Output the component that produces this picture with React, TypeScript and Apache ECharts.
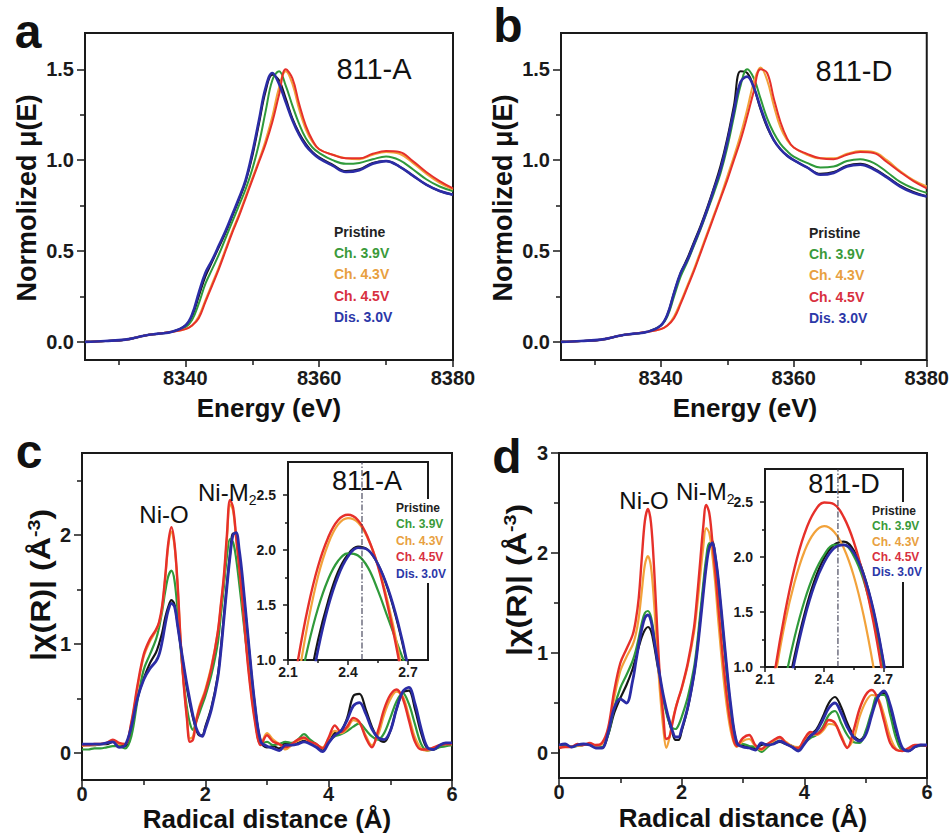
import React, { useEffect, useRef } from "react";
import * as echarts from "echarts";

const FONT = "'Liberation Sans', Arial, Helvetica, sans-serif";

// ---------- shared ----------
const SERIES_NAMES = ["Pristine", "Ch. 3.9V", "Ch. 4.3V", "Ch. 4.5V", "Dis. 3.0V"];
const LINE_COLORS = ["#161616", "#2f9a3a", "#f2a23a", "#e6302a", "#2b2ca6"];
const LEGEND_COLORS = ["#222222", "#3a9a3a", "#e8a040", "#d83040", "#2c38a8"];

// ---------- XANES (a, b) ----------
const ENERGY = [8325, 8328, 8331, 8334, 8336, 8338, 8340, 8341, 8342, 8343, 8344, 8345, 8346, 8347, 8348, 8349, 8350, 8351, 8352, 8353, 8354, 8355, 8356, 8357, 8358, 8359, 8360, 8362, 8364, 8366, 8368, 8370, 8372, 8374, 8376, 8378, 8380];
const ENERGY_TICKS = [8340, 8360, 8380];
const ENERGY_MINOR = [8330, 8350, 8370];
const MU_TICKS = [0, 0.5, 1, 1.5];
const MU_MINOR = [0.25, 0.75, 1.25];

const A_PRISTINE = [0.0, 0.005, 0.012, 0.035, 0.045, 0.055, 0.09, 0.14, 0.25, 0.36, 0.44, 0.52, 0.6, 0.69, 0.78, 0.88, 1.02, 1.2, 1.38, 1.47, 1.44, 1.34, 1.23, 1.15, 1.09, 1.045, 1.015, 0.975, 0.94, 0.95, 0.985, 0.995, 0.965, 0.915, 0.865, 0.83, 0.81];
const A_CH39 = [0.0, 0.005, 0.012, 0.035, 0.045, 0.055, 0.08, 0.12, 0.21, 0.32, 0.4, 0.48, 0.57, 0.66, 0.75, 0.84, 0.95, 1.09, 1.27, 1.44, 1.49, 1.41, 1.3, 1.2, 1.12, 1.07, 1.04, 1.0, 0.98, 0.985, 1.005, 1.02, 1.0, 0.95, 0.895, 0.855, 0.83];
const A_CH43 = [0.0, 0.005, 0.012, 0.035, 0.045, 0.055, 0.07, 0.09, 0.14, 0.23, 0.32, 0.41, 0.51, 0.61, 0.7, 0.8, 0.9, 1.0, 1.11, 1.24, 1.4, 1.49, 1.42, 1.28, 1.17, 1.1, 1.06, 1.03, 1.01, 1.005, 1.03, 1.045, 1.035, 0.985, 0.925, 0.875, 0.84];
const A_CH45 = [0.0, 0.005, 0.012, 0.035, 0.045, 0.055, 0.07, 0.09, 0.13, 0.22, 0.31, 0.4, 0.5, 0.6, 0.69, 0.79, 0.89, 0.99, 1.09, 1.21, 1.36, 1.5, 1.45, 1.31, 1.19, 1.11, 1.06, 1.03, 1.01, 1.01, 1.035, 1.05, 1.045, 0.995, 0.935, 0.885, 0.845];
const A_DIS30 = [0.0, 0.005, 0.012, 0.035, 0.045, 0.055, 0.09, 0.15, 0.27, 0.38, 0.45, 0.53, 0.61, 0.7, 0.79, 0.89, 1.04, 1.22, 1.4, 1.48, 1.42, 1.32, 1.22, 1.14, 1.08, 1.04, 1.01, 0.97, 0.935, 0.945, 0.98, 0.995, 0.965, 0.915, 0.865, 0.83, 0.81];

const B_PRISTINE = [0.0, 0.005, 0.012, 0.035, 0.045, 0.055, 0.09, 0.15, 0.27, 0.38, 0.46, 0.55, 0.64, 0.74, 0.85, 0.97, 1.12, 1.3, 1.49, 1.48, 1.4, 1.28, 1.18, 1.11, 1.06, 1.025, 1.0, 0.96, 0.925, 0.935, 0.97, 0.98, 0.955, 0.91, 0.86, 0.825, 0.8];
const B_CH39 = [0.0, 0.005, 0.012, 0.035, 0.045, 0.055, 0.09, 0.14, 0.25, 0.36, 0.44, 0.53, 0.62, 0.72, 0.82, 0.93, 1.07, 1.24, 1.41, 1.5, 1.45, 1.34, 1.23, 1.15, 1.09, 1.05, 1.02, 0.985, 0.96, 0.965, 0.995, 1.005, 0.985, 0.935, 0.88, 0.845, 0.82];
const B_CH43 = [0.0, 0.005, 0.012, 0.035, 0.045, 0.055, 0.07, 0.09, 0.14, 0.22, 0.31, 0.4, 0.5, 0.6, 0.7, 0.8, 0.91, 1.02, 1.14, 1.28, 1.43, 1.51, 1.44, 1.3, 1.18, 1.11, 1.07, 1.03, 1.01, 1.01, 1.035, 1.05, 1.045, 1.0, 0.94, 0.89, 0.855];
const B_CH45 = [0.0, 0.005, 0.012, 0.035, 0.045, 0.055, 0.07, 0.09, 0.13, 0.21, 0.3, 0.39, 0.49, 0.59, 0.69, 0.79, 0.89, 1.0, 1.11, 1.24, 1.38, 1.5, 1.48, 1.34, 1.21, 1.12, 1.07, 1.035, 1.01, 1.005, 1.03, 1.045, 1.04, 0.99, 0.935, 0.885, 0.845];
const B_DIS30 = [0.0, 0.005, 0.012, 0.035, 0.045, 0.055, 0.09, 0.15, 0.27, 0.38, 0.45, 0.54, 0.63, 0.73, 0.84, 0.95, 1.1, 1.27, 1.43, 1.46, 1.4, 1.29, 1.19, 1.11, 1.06, 1.025, 1.0, 0.96, 0.92, 0.93, 0.965, 0.975, 0.95, 0.905, 0.855, 0.82, 0.8];

// ---------- EXAFS (c, d) ----------
const RADIUS = [0, 0.1, 0.2, 0.3, 0.4, 0.5, 0.6, 0.7, 0.8, 0.9, 1.0, 1.1, 1.2,
  1.25, 1.3, 1.35, 1.4, 1.45, 1.5, 1.55, 1.6, 1.65, 1.7, 1.75, 1.8, 1.85, 1.9, 1.95, 2.0,
  2.1, 2.2,
  2.25, 2.3, 2.35, 2.4, 2.45, 2.5, 2.55, 2.6,
  2.7, 2.8, 2.9, 3.0, 3.1, 3.2, 3.3, 3.4, 3.5, 3.6, 3.7, 3.8, 3.9, 4.0, 4.1, 4.2, 4.3, 4.4, 4.5, 4.6, 4.7, 4.8, 4.9, 5.0, 5.1, 5.2, 5.3, 5.4, 5.5, 5.6, 5.7, 5.8, 5.9, 6.0];
const R_TICKS = [0, 2, 4, 6];
const R_MINOR = [1, 3, 5];
const C_CHI_TICKS = [0, 1, 2];
const D_CHI_TICKS = [0, 1, 2, 3];
const CHI_MINOR = [0.5, 1.5, 2.5];

const C_PRISTINE = [0.07, 0.07, 0.07, 0.08, 0.08, 0.1, 0.07, 0.06, 0.22, 0.5, 0.68, 0.82, 0.92,
  1.0, 1.1, 1.24, 1.34, 1.4, 1.36, 1.18, 0.98, 0.78, 0.6, 0.45, 0.32, 0.22, 0.16, 0.16, 0.24,
  0.42, 0.7,
  0.95, 1.25, 1.55, 1.82, 2.01, 2.0, 1.82, 1.58,
  1.0, 0.45, 0.1, 0.05, 0.06, 0.04, 0.09, 0.08, 0.09, 0.11, 0.09, 0.07, 0.02, 0.1, 0.18, 0.2, 0.32, 0.52, 0.54, 0.4, 0.24, 0.13, 0.1, 0.2, 0.4, 0.55, 0.57, 0.4, 0.18, 0.04, 0.03, 0.06, 0.08, 0.09];
const C_CH39 = [0.03, 0.03, 0.04, 0.04, 0.05, 0.06, 0.06, 0.04, 0.15, 0.48, 0.76, 0.9, 1.04,
  1.15, 1.3, 1.48, 1.62, 1.67, 1.58, 1.3, 0.95, 0.65, 0.42, 0.27, 0.21, 0.28, 0.36, 0.44, 0.52,
  0.72, 1.0,
  1.25, 1.52, 1.8, 1.96, 1.93, 1.78, 1.55, 1.3,
  0.8, 0.35, 0.08, 0.1, 0.07, 0.08, 0.1, 0.09, 0.12, 0.17, 0.12, 0.08, 0.04, 0.1, 0.15, 0.17, 0.2, 0.24, 0.27, 0.21, 0.15, 0.12, 0.18, 0.32, 0.47, 0.55, 0.45, 0.26, 0.08, 0.02, 0.03, 0.05, 0.06, 0.07];
const C_CH43 = [0.06, 0.07, 0.07, 0.08, 0.09, 0.11, 0.08, 0.08, 0.27, 0.6, 0.88, 1.02, 1.12,
  1.19, 1.33, 1.6, 1.9, 2.03, 1.9, 1.53, 1.02, 0.63, 0.34, 0.13, 0.15, 0.3, 0.42, 0.5, 0.58,
  0.8, 1.1,
  1.34, 1.6, 1.96, 2.28, 2.22, 1.96, 1.7, 1.4,
  0.77, 0.32, 0.08, 0.18, 0.12, 0.08, 0.03, 0.07, 0.11, 0.13, 0.1, 0.07, 0.05, 0.13, 0.2, 0.18, 0.22, 0.3, 0.27, 0.16, 0.07, 0.16, 0.35, 0.49, 0.56, 0.52, 0.34, 0.14, 0.04, 0.02, 0.04, 0.07, 0.08, 0.08];
const C_CH45 = [0.07, 0.07, 0.08, 0.08, 0.09, 0.12, 0.09, 0.08, 0.28, 0.62, 0.9, 1.04, 1.13,
  1.2, 1.35, 1.62, 1.93, 2.07, 1.92, 1.55, 1.02, 0.62, 0.32, 0.1, 0.12, 0.28, 0.4, 0.48, 0.56,
  0.78, 1.1,
  1.35, 1.62, 2.0, 2.32, 2.25, 1.98, 1.7, 1.4,
  0.75, 0.3, 0.07, 0.16, 0.1, 0.08, 0.05, 0.08, 0.12, 0.14, 0.1, 0.08, 0.04, 0.14, 0.25, 0.19, 0.24, 0.32, 0.28, 0.14, 0.05, 0.2, 0.4, 0.53, 0.58, 0.5, 0.3, 0.1, 0.03, 0.03, 0.05, 0.07, 0.08, 0.08];
const C_DIS30 = [0.08, 0.08, 0.08, 0.08, 0.09, 0.1, 0.05, 0.07, 0.24, 0.5, 0.67, 0.77, 0.84,
  0.9, 1.02, 1.18, 1.31, 1.37, 1.34, 1.17, 0.98, 0.8, 0.63, 0.48, 0.34, 0.23, 0.17, 0.15, 0.22,
  0.4, 0.68,
  0.92, 1.22, 1.52, 1.8, 2.0, 2.02, 1.86, 1.62,
  1.02, 0.46, 0.1, 0.06, 0.04, 0.02, 0.07, 0.07, 0.08, 0.1, 0.08, 0.05, 0.01, 0.09, 0.16, 0.2, 0.3, 0.43, 0.46, 0.36, 0.22, 0.14, 0.12, 0.2, 0.4, 0.56, 0.6, 0.45, 0.22, 0.05, 0.03, 0.07, 0.09, 0.09];

const D_PRISTINE = [0.06, 0.07, 0.07, 0.07, 0.08, 0.08, 0.06, 0.05, 0.18, 0.4, 0.55, 0.68, 0.84,
  0.95, 1.06, 1.16, 1.23, 1.26, 1.22, 1.08, 0.9, 0.72, 0.56, 0.42, 0.3, 0.2, 0.13, 0.13, 0.22,
  0.45, 0.78,
  1.02, 1.32, 1.62, 1.9, 2.08, 2.12, 1.96, 1.7,
  1.05, 0.45, 0.1, 0.07, 0.06, 0.05, 0.08, 0.09, 0.1, 0.11, 0.09, 0.07, 0.03, 0.1, 0.18, 0.24, 0.36, 0.5, 0.56, 0.46, 0.3, 0.18, 0.13, 0.2, 0.4, 0.56, 0.6, 0.44, 0.2, 0.04, 0.02, 0.06, 0.08, 0.08];
const D_CH39 = [0.07, 0.07, 0.06, 0.07, 0.08, 0.08, 0.06, 0.06, 0.18, 0.45, 0.65, 0.78, 0.92,
  1.02, 1.15, 1.3, 1.4, 1.42, 1.36, 1.18, 0.96, 0.74, 0.55, 0.4, 0.3, 0.25, 0.24, 0.28, 0.36,
  0.56, 0.85,
  1.08, 1.38, 1.68, 1.95, 2.1, 2.09, 1.92, 1.66,
  1.02, 0.42, 0.08, 0.09, 0.07, 0.06, 0.01, 0.06, 0.1, 0.12, 0.09, 0.07, 0.04, 0.1, 0.15, 0.18, 0.26, 0.38, 0.42, 0.3, 0.18, 0.11, 0.1, 0.22, 0.42, 0.58, 0.58, 0.38, 0.14, 0.03, 0.03, 0.06, 0.07, 0.07];
const D_CH43 = [0.06, 0.06, 0.07, 0.07, 0.08, 0.09, 0.07, 0.09, 0.22, 0.55, 0.82, 0.96, 1.08,
  1.18, 1.35, 1.62, 1.88, 1.97, 1.86, 1.5, 1.02, 0.58, 0.25, 0.05, 0.15, 0.32, 0.45, 0.55, 0.64,
  0.88, 1.2,
  1.45, 1.75, 2.05, 2.25, 2.2, 1.98, 1.68, 1.3,
  0.65, 0.22, 0.06, 0.12, 0.14, 0.07, 0.03, 0.08, 0.12, 0.15, 0.11, 0.07, 0.06, 0.13, 0.2, 0.18, 0.22, 0.29, 0.28, 0.18, 0.06, 0.14, 0.36, 0.51, 0.58, 0.55, 0.38, 0.16, 0.04, 0.02, 0.04, 0.07, 0.08, 0.08];
const D_CH45 = [0.05, 0.06, 0.06, 0.09, 0.08, 0.1, 0.08, 0.1, 0.25, 0.62, 0.9, 1.04, 1.18,
  1.32, 1.55, 1.95, 2.32, 2.44, 2.3, 1.85, 1.25, 0.72, 0.38, 0.14, 0.16, 0.3, 0.44, 0.55, 0.65,
  0.9, 1.25,
  1.55, 1.9, 2.25, 2.48, 2.4, 2.12, 1.8, 1.45,
  0.78, 0.28, 0.07, 0.15, 0.18, 0.08, 0.04, 0.09, 0.13, 0.16, 0.1, 0.06, 0.05, 0.14, 0.21, 0.19, 0.24, 0.33, 0.3, 0.16, 0.05, 0.22, 0.44, 0.58, 0.63, 0.54, 0.32, 0.1, 0.03, 0.02, 0.05, 0.08, 0.08, 0.07];
const D_DIS30 = [0.08, 0.09, 0.06, 0.08, 0.09, 0.08, 0.05, 0.05, 0.2, 0.45, 0.54, 0.5, 0.72,
  0.9, 1.08, 1.24, 1.35, 1.38, 1.32, 1.14, 0.94, 0.75, 0.58, 0.44, 0.32, 0.22, 0.16, 0.16, 0.24,
  0.46, 0.78,
  1.0, 1.28, 1.58, 1.86, 2.05, 2.1, 1.96, 1.72,
  1.08, 0.48, 0.1, 0.06, 0.05, 0.03, 0.1, 0.08, 0.09, 0.12, 0.09, 0.06, 0.02, 0.09, 0.17, 0.22, 0.33, 0.45, 0.5, 0.4, 0.26, 0.16, 0.12, 0.18, 0.38, 0.56, 0.62, 0.48, 0.24, 0.05, 0.02, 0.06, 0.08, 0.08];

// ---------- insets (Ni-M peak zoom) ----------
const R_INSET = [2.1, 2.15, 2.2, 2.25, 2.3, 2.35, 2.4, 2.45, 2.5, 2.55, 2.6, 2.65, 2.7, 2.75, 2.8];
const INSET_X_TICKS = [2.1, 2.4, 2.7];
const INSET_X_MINOR = [2.25, 2.55];
const INSET_Y_TICKS = [1.0, 1.5, 2.0, 2.5];
const INSET_Y_MINOR = [1.25, 1.75, 2.25];
const INSET_MARK_R = 2.47;

const CI_PRISTINE = [-0.2, 0.25, 0.72, 1.18, 1.53, 1.8, 1.96, 2.03, 2.0, 1.87, 1.64, 1.32, 0.92, 0.45, 0.1];
const CI_CH39 = [0.15, 0.68, 1.12, 1.47, 1.73, 1.9, 1.97, 1.95, 1.84, 1.63, 1.38, 1.13, 0.88, 0.55, 0.2];
const CI_CH43 = [0.3, 0.82, 1.34, 1.76, 2.05, 2.23, 2.29, 2.25, 2.1, 1.86, 1.52, 1.1, 0.58, 0.15, 0.05];
const CI_CH45 = [0.42, 1.0, 1.48, 1.85, 2.11, 2.27, 2.32, 2.27, 2.11, 1.85, 1.48, 1.04, 0.5, 0.1, 0.05];
const CI_DIS30 = [-0.3, 0.12, 0.59, 1.09, 1.48, 1.76, 1.94, 2.02, 2.0, 1.87, 1.65, 1.34, 0.94, 0.44, 0.1];

const DI_PRISTINE = [-0.4, 0.15, 0.65, 1.1, 1.48, 1.78, 1.99, 2.11, 2.14, 2.06, 1.85, 1.51, 1.05, 0.5, 0.0];
const DI_CH39 = [-0.2, 0.37, 0.86, 1.27, 1.6, 1.85, 2.02, 2.11, 2.11, 2.01, 1.79, 1.45, 1.0, 0.43, 0.0];
const DI_CH43 = [0.29, 0.89, 1.39, 1.77, 2.05, 2.22, 2.28, 2.23, 2.08, 1.83, 1.47, 1.0, 0.43, 0.0, -0.3];
const DI_CH45 = [0.32, 0.96, 1.48, 1.9, 2.21, 2.41, 2.495, 2.48, 2.36, 2.14, 1.82, 1.41, 0.89, 0.3, 0.0];
const DI_DIS30 = [-0.5, 0.08, 0.58, 1.05, 1.44, 1.74, 1.95, 2.08, 2.11, 2.04, 1.84, 1.52, 1.06, 0.52, 0.0];

// ---------- helpers ----------
type Fmt = (v: number) => string;

function axisPair(
  kind: "x" | "y", gridIndex: number, min: number, max: number,
  majors: number[], minors: number[], fontSize: number, margin: number,
  majorLen: number, minorLen: number, fmt: Fmt
) {
  const base: any = {
    type: "value", gridIndex, min, max,
    position: kind === "x" ? "bottom" : "left",
    axisLine: { show: false, onZero: false },
    splitLine: { show: false },
  };
  const tickStyle = { color: "#1a1a1a", width: 1.5 };
  return [
    {
      ...base,
      axisTick: { show: true, inside: false, length: majorLen, lineStyle: tickStyle, customValues: majors },
      axisLabel: {
        show: true, customValues: majors, fontSize, fontWeight: "bold", fontFamily: FONT,
        color: "#1a1a1a", margin, formatter: (v: number) => fmt(v),
      },
    },
    {
      ...base,
      axisTick: { show: true, inside: false, length: minorLen, lineStyle: tickStyle, customValues: minors },
      axisLabel: { show: false },
    },
  ];
}

function lineSeries(g: number, xs: number[], ys: number[][], widths: number[], smooth: number) {
  return ys.map((arr, i) => ({
    type: "line",
    name: `${SERIES_NAMES[i]} ${g}`,
    xAxisIndex: 2 * g,
    yAxisIndex: 2 * g,
    data: xs.map((x, j) => [x, arr[j]]),
    showSymbol: false,
    symbol: "none",
    smooth,
    clip: true,
    silent: true,
    z: 3 + i,
    lineStyle: { color: LINE_COLORS[i], width: widths[i] },
  }));
}

function txt(text: string, x: number, y: number, size: number, o: any = {}) {
  const weight = o.weight || "normal";
  return {
    type: "text", x, y, rotation: o.rotation || 0, z: 100, silent: true,
    scaleX: o.scaleX || 1,
    style: {
      text, fill: o.color || "#111111",
      font: `${weight} ${size}px ${FONT}`,
      fontSize: size, fontWeight: weight, fontFamily: FONT,
      textAlign: o.align || "center", align: o.align || "center",
      textVerticalAlign: o.valign || "middle", verticalAlign: o.valign || "middle",
      rich: o.rich,
    },
  };
}

function legendBlock(x: number, y0: number, step: number, size: number) {
  return SERIES_NAMES.map((n, i) =>
    txt(n, x, y0 + i * step, size, { weight: "bold", align: "left", color: LEGEND_COLORS[i] })
  );
}

const f1: Fmt = (v) => v.toFixed(1);
const f0: Fmt = (v) => String(Math.round(v));

export default function App() {
  const ref = useRef<HTMLDivElement>(null);

  useEffect(() => {
    if (!ref.current) return;
    const chart = echarts.init(ref.current, undefined, { renderer: "svg" });

    const grids = [
      { left: 85, top: 33, width: 368, height: 327 },
      { left: 561, top: 33, width: 368, height: 327 },
      { left: 82, top: 453, width: 370, height: 327 },
      { left: 559, top: 453, width: 368, height: 325 },
      { left: 288, top: 462, width: 140, height: 198, backgroundColor: "#ffffff" },
      { left: 765, top: 469, width: 138, height: 198, backgroundColor: "#ffffff" },
    ].map((g) => ({ show: true, borderColor: "#1a1a1a", borderWidth: 2, backgroundColor: "transparent", ...g }));

    const xAxis = [
      ...axisPair("x", 0, 8325, 8380, ENERGY_TICKS, ENERGY_MINOR, 20, 8, 7, 5, f0),
      ...axisPair("x", 1, 8325, 8380, ENERGY_TICKS, ENERGY_MINOR, 20, 8, 7, 5, f0),
      ...axisPair("x", 2, 0, 6, R_TICKS, R_MINOR, 20, 4, 7, 5, f0),
      ...axisPair("x", 3, 0, 6, R_TICKS, R_MINOR, 20, 4, 7, 5, f0),
      ...axisPair("x", 4, 2.1, 2.8, INSET_X_TICKS, INSET_X_MINOR, 14, 5, 5, 3, f1),
      ...axisPair("x", 5, 2.1, 2.8, INSET_X_TICKS, INSET_X_MINOR, 14, 5, 5, 3, f1),
    ];
    const yAxis = [
      ...axisPair("y", 0, -0.1, 1.7, MU_TICKS, MU_MINOR, 20, 11, 8, 5, f1),
      ...axisPair("y", 1, -0.1, 1.7, MU_TICKS, MU_MINOR, 20, 11, 8, 5, f1),
      ...axisPair("y", 2, -0.25, 2.75, C_CHI_TICKS, CHI_MINOR, 20, 11, 8, 5, f0),
      ...axisPair("y", 3, -0.25, 3, D_CHI_TICKS, CHI_MINOR, 20, 11, 8, 5, f0),
      ...axisPair("y", 4, 1.0, 2.8, INSET_Y_TICKS, INSET_Y_MINOR, 14, 12, 5, 3, f1),
      ...axisPair("y", 5, 1.0, 2.8, INSET_Y_TICKS, INSET_Y_MINOR, 14, 12, 5, 3, f1),
    ];

    const wMain = [2, 2, 2, 2, 2.6];
    const wExafs = [2.2, 2.2, 2.2, 2.4, 2.8];
    const wInset = [2.2, 2.2, 2.2, 2.4, 2.6];

    const markLine = (g: number) => ({
      type: "line", xAxisIndex: 2 * g, yAxisIndex: 2 * g, silent: true, symbol: "none", showSymbol: false, z: 9,
      data: [[INSET_MARK_R, 1.0], [INSET_MARK_R, 2.8]],
      lineStyle: { color: "#3a3a50", width: 1.1, type: [6, 2, 1.5, 2] },
    });

    const series: any[] = [
      ...lineSeries(0, ENERGY, [A_PRISTINE, A_CH39, A_CH43, A_CH45, A_DIS30], wMain, 0.4),
      ...lineSeries(1, ENERGY, [B_PRISTINE, B_CH39, B_CH43, B_CH45, B_DIS30], wMain, 0.4),
      ...lineSeries(2, RADIUS, [C_PRISTINE, C_CH39, C_CH43, C_CH45, C_DIS30], wExafs, 0.35),
      ...lineSeries(3, RADIUS, [D_PRISTINE, D_CH39, D_CH43, D_CH45, D_DIS30], wExafs, 0.35),
      ...lineSeries(4, R_INSET, [CI_PRISTINE, CI_CH39, CI_CH43, CI_CH45, CI_DIS30], wInset, 0.4),
      ...lineSeries(5, R_INSET, [DI_PRISTINE, DI_CH39, DI_CH43, DI_CH45, DI_DIS30], wInset, 0.4),
      markLine(4),
      markLine(5),
    ];

    const chiRich = {
      sup: { fontSize: 17, fontWeight: "bold", fontFamily: FONT, fill: "#111111", verticalAlign: "top", lineHeight: 30 },
    };
    const subRich = {
      sub: { fontSize: 14, fontWeight: "normal", fontFamily: FONT, fill: "#111111", verticalAlign: "bottom", lineHeight: 30 },
    };

    const graphic: any[] = [
      // panel letters
      txt("a", 28, 31, 48, { weight: "bold" }),
      txt("b", 508, 25, 48, { weight: "bold" }),
      txt("c", 29, 451, 48, { weight: "bold" }),
      txt("d", 507, 456, 48, { weight: "bold" }),
      // sample labels
      txt("811-A", 374, 69, 29),
      txt("811-D", 854, 71, 29),
      // axis titles a/b
      txt("Energy (eV)", 269, 408, 26, { weight: "bold" }),
      txt("Energy (eV)", 745, 408, 26, { weight: "bold" }),
      txt("Normolized μ(E)", 27, 198, 27, { weight: "bold", rotation: Math.PI / 2 }),
      txt("Normolized μ(E)", 503, 198, 27, { weight: "bold", rotation: Math.PI / 2 }),
      // axis titles c/d
      txt("Radical distance (Å)", 267, 819, 26, { weight: "bold" }),
      txt("Radical distance (Å)", 743, 818, 26, { weight: "bold" }),
      txt("|χ(R)| (Å{sup|-3})", 40, 585, 28, { weight: "bold", rotation: Math.PI / 2, rich: chiRich, scaleX: 1.15 }),
      txt("|χ(R)| (Å{sup|-3})", 516, 580, 28, { weight: "bold", rotation: Math.PI / 2, rich: chiRich, scaleX: 1.15 }),
      // peak labels
      txt("Ni-O", 164, 514, 24),
      txt("Ni-M{sub|2}", 198, 492, 24, { align: "left", rich: subRich }),
      txt("Ni-O", 644, 500, 24),
      txt("Ni-M{sub|2}", 676, 491, 24, { align: "left", rich: subRich }),
      // legends a/b
      ...legendBlock(334, 232, 21.2, 14),
      ...legendBlock(809, 233, 21.2, 14),
      // inset legend backgrounds
      { type: "rect", z: 90, silent: true, shape: { x: 393, y: 499, width: 57, height: 84 }, style: { fill: "#ffffff" } },
      { type: "rect", z: 90, silent: true, shape: { x: 869, y: 502, width: 56, height: 80 }, style: { fill: "#ffffff" } },
      ...legendBlock(396, 508, 16.4, 12),
      ...legendBlock(872, 511, 15.3, 12),
      // inset titles
      txt("811-A", 367, 481, 27),
      txt("811-D", 844, 484, 27),
    ];

    chart.setOption({
      animation: false,
      backgroundColor: "#ffffff",
      textStyle: { fontFamily: FONT },
      grid: grids,
      xAxis,
      yAxis,
      series,
      graphic,
    });

    return () => chart.dispose();
  }, []);

  return (
    <div
      ref={ref}
      style={{ position: "absolute", left: 0, top: 0, width: 952, height: 836, background: "#fff" }}
    />
  );
}
